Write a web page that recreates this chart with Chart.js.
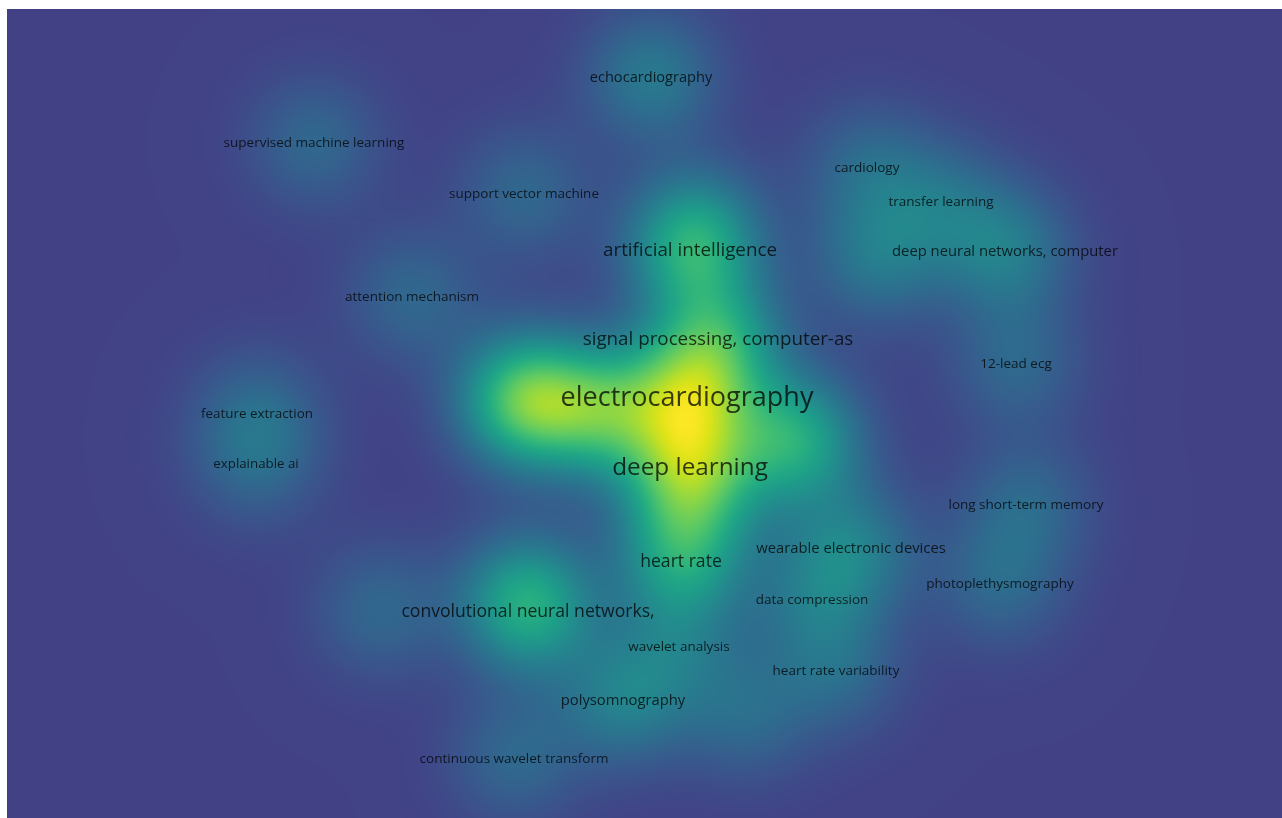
<!DOCTYPE html>
<html>
<head>
<meta charset="utf-8">
<script src="https://cdn.jsdelivr.net/npm/chart.js@4.4.0/dist/chart.umd.min.js"></script>
<style>
  html, body { margin: 0; padding: 0; background: #fff; }
  #wrap { width: 1282px; height: 818px; }
</style>
</head>
<body>
<div id="wrap"><canvas id="map"></canvas></div>
<script>
// keyword co-occurrence map (density view)
// items with an empty label still add to the density, their labels are hidden (overlap)
const keywords = [
    'echocardiography', 'supervised machine learning', 'support vector machine', 'cardiology',
    'transfer learning', 'artificial intelligence', 'deep neural networks, computer', 'attention mechanism',
    'signal processing, computer-as', '12-lead ecg', 'electrocardiography', 'feature extraction',
    'explainable ai', 'deep learning', 'long short-term memory', 'wearable electronic devices',
    'heart rate', 'photoplethysmography', 'data compression', 'convolutional neural networks,',
    'wavelet analysis', 'heart rate variability', 'polysomnography', 'continuous wavelet transform',
    '', '', '', '', '', '', '', '', ''
];
const xPos = [
    651, 314, 524, 867,
    941, 690, 1005, 412,
    718, 1016, 687, 257,
    256, 690, 1026, 851,
    681, 1000, 812, 528,
    679, 836, 623, 514,
    525, 600, 795, 690, 700, 877, 525, 380, 745
];
const yPos = [
    77, 142, 193, 167,
    201, 250, 251, 296,
    339, 363, 397, 413,
    463, 467, 504, 548,
    561, 583, 599, 611,
    646, 670, 700, 758,
    400, 410, 440, 512, 222, 258, 588, 610, 715
];
const occurrences = [
    16, 5, 5, 5,
    5, 58, 18, 5,
    58, 5, 140, 4,
    3, 113, 5, 18,
    46, 5, 5, 46,
    5, 5, 18, 5,
    230, 99, 99, 5, 4, 13, 5, 5, 5
];

// viridis, sampled every 0.05
const viridis = [
    [68,1,84],[72,23,105],[72,40,120],[69,55,129],[65,68,135],[59,82,139],[53,95,141],
    [46,108,142],[41,120,142],[37,132,142],[33,145,140],[30,157,137],[34,168,132],
    [47,180,124],[68,191,112],[94,201,98],[122,209,81],[154,217,60],[189,223,38],
    [223,227,24],[253,231,37]
];

function viridisAt(t) {
    t = Math.max(0, Math.min(1, t)) * (viridis.length - 1);
    const i = Math.min(Math.floor(t), viridis.length - 2);
    const f = t - i;
    const a = viridis[i], b = viridis[i + 1];
    return [a[0] + (b[0] - a[0]) * f, a[1] + (b[1] - a[1]) * f, a[2] + (b[2] - a[2]) * f];
}

const sigma = 46;       // kernel width in px
const weightPow = 0.35; // how much occurrences count in the density
const gamma = 1.0;
const tLow = 0.19;      // colour of empty space

const densityPlugin = {
    id: 'density',
    beforeDatasetsDraw(chart) {
        const { ctx, chartArea: a } = chart;
        const w = Math.round(a.right - a.left), h = Math.round(a.bottom - a.top);
        const grid = new Float32Array(w * h);
        const s2 = 2 * sigma * sigma;
        const reach = Math.ceil(sigma * 5);
        const meta = chart.getDatasetMeta(0);

        meta.data.forEach((pt, k) => {
            const px = pt.x - a.left, py = pt.y - a.top;
            const m = Math.pow(occurrences[k], weightPow);
            const x0 = Math.max(0, Math.floor(px - reach)), x1 = Math.min(w - 1, Math.ceil(px + reach));
            const y0 = Math.max(0, Math.floor(py - reach)), y1 = Math.min(h - 1, Math.ceil(py + reach));
            const gx = [];
            for (let i = x0; i <= x1; i++) gx.push(Math.exp(-((i - px) ** 2) / s2));
            for (let j = y0; j <= y1; j++) {
                const gy = m * Math.exp(-((j - py) ** 2) / s2);
                const row = j * w;
                for (let i = x0; i <= x1; i++) grid[row + i] += gy * gx[i - x0];
            }
        });

        let max = 0;
        for (let i = 0; i < grid.length; i++) if (grid[i] > max) max = grid[i];

        const steps = 2048;
        const lut = [];
        for (let i = 0; i <= steps; i++) lut.push(viridisAt(tLow + (1 - tLow) * Math.pow(i / steps, gamma)));

        const off = document.createElement('canvas');
        off.width = w; off.height = h;
        const octx = off.getContext('2d');
        const img = octx.createImageData(w, h);
        for (let i = 0; i < grid.length; i++) {
            const c = lut[Math.round(grid[i] / max * steps)];
            img.data[i * 4] = c[0];
            img.data[i * 4 + 1] = c[1];
            img.data[i * 4 + 2] = c[2];
            img.data[i * 4 + 3] = 255;
        }
        octx.putImageData(img, 0, 0);
        ctx.drawImage(off, a.left, a.top);
    }
};

const labelPlugin = {
    id: 'labels',
    afterDatasetsDraw(chart) {
        const { ctx } = chart;
        const meta = chart.getDatasetMeta(0);
        ctx.save();
        ctx.textAlign = 'center';
        ctx.textBaseline = 'middle';
        ctx.fillStyle = 'rgba(0, 0, 0, 0.75)';
        meta.data.forEach((pt, k) => {
            if (!keywords[k]) return;
            const size = 13 + occurrences[k] / 10;
            ctx.font = size.toFixed(1) + 'px "Open Sans"';
            ctx.fillText(keywords[k], pt.x, pt.y + 1);
        });
        ctx.restore();
    }
};

new Chart(document.getElementById('map'), {
    type: 'scatter',
    data: {
        datasets: [{
            data: keywords.map((k, i) => ({ x: xPos[i], y: yPos[i] })),
            pointRadius: 0,
            pointHoverRadius: 0
        }]
    },
    options: {
        responsive: true,
        maintainAspectRatio: false,
        animation: false,
        layout: { padding: { left: 7, top: 9, right: 0, bottom: 0 } },
        scales: {
            x: { type: 'linear', min: 7, max: 1282, display: false },
            y: { type: 'linear', min: 9, max: 818, reverse: true, display: false }
        },
        plugins: { legend: { display: false }, tooltip: { enabled: false } }
    },
    plugins: [densityPlugin, labelPlugin]
});
</script>
</body>
</html>
